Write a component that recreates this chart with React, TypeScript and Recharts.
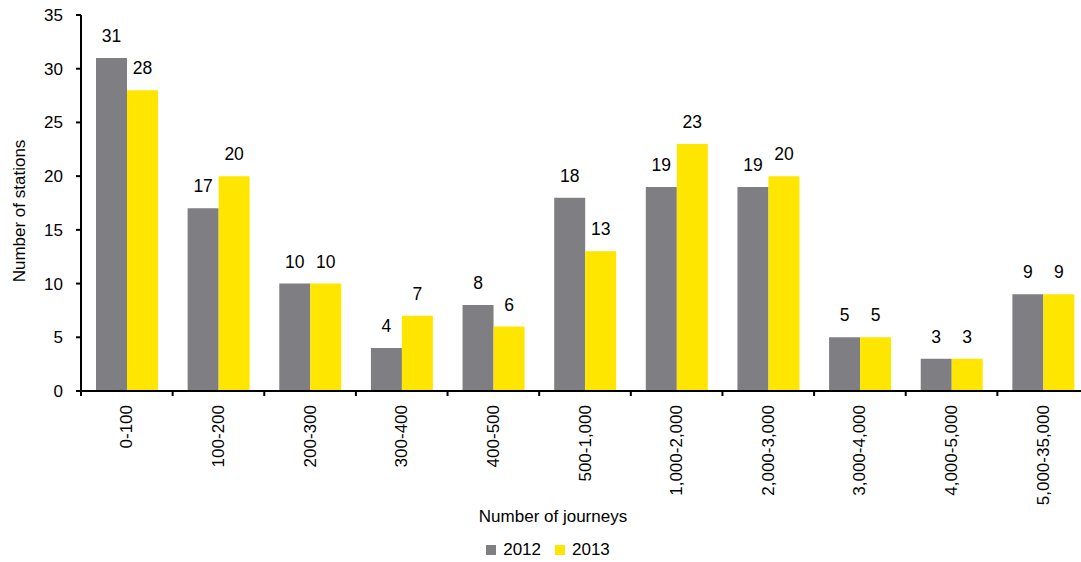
import { BarChart, Bar, XAxis, YAxis, Label, LabelList, Legend } from 'recharts';

const categories = [
  '0-100',
  '100-200',
  '200-300',
  '300-400',
  '400-500',
  '500-1,000',
  '1,000-2,000',
  '2,000-3,000',
  '3,000-4,000',
  '4,000-5,000',
  '5,000-35,000',
];
const stations2012 = [31, 17, 10, 4, 8, 18, 19, 19, 5, 3, 9];
const stations2013 = [28, 20, 10, 7, 6, 13, 23, 20, 5, 3, 9];
const yTicks = [0, 5, 10, 15, 20, 25, 30, 35];

const GREY = '#7f7e83';
const YELLOW = '#ffe600';
const FONT = '"Liberation Sans", Arial, sans-serif';

const data = categories.map((name, i) => ({
  name,
  y2012: stations2012[i],
  y2013: stations2013[i],
}));

// label at the band centre, tick mark at the band's left edge
function CategoryTick(props: any) {
  const { x, y, payload } = props;
  const edge = x - (payload.offset ?? 0);
  return (
    <g>
      <line x1={edge} y1={y} x2={edge} y2={y + 5} stroke="#000" strokeWidth={2} />
      <text
        x={x}
        y={y + 14}
        transform={`rotate(-90, ${x}, ${y + 14})`}
        textAnchor="end"
        dominantBaseline="central"
        fontSize={17}
        fill="#000"
      >
        {payload.value}
      </text>
    </g>
  );
}

function LegendContent() {
  const items = [
    { label: '2012', color: GREY },
    { label: '2013', color: YELLOW },
  ];
  return (
    <div
      style={{
        display: 'flex',
        justifyContent: 'center',
        alignItems: 'center',
        height: 30,
        paddingLeft: 7,
        paddingTop: 6,
        boxSizing: 'border-box',
        fontSize: 17,
        color: '#000',
      }}
    >
      {items.map((it) => (
        <span key={it.label} style={{ display: 'flex', alignItems: 'center', margin: '0 7px' }}>
          <span style={{ width: 10, height: 10, background: it.color, marginRight: 7 }} />
          {it.label}
        </span>
      ))}
    </div>
  );
}

export default function App() {
  return (
    <div
      style={{
        position: 'absolute',
        left: 0,
        top: 0,
        width: 1081,
        height: 562,
        overflow: 'hidden',
        background: '#fff',
        fontFamily: FONT,
      }}
    >
      <BarChart
        width={1090}
        height={562}
        data={data}
        margin={{ top: 15, right: 1, left: 0, bottom: 0 }}
        barCategoryGap={15}
        barGap={0}
      >
        <YAxis
          width={81}
          domain={[0, 35]}
          ticks={yTicks}
          interval={0}
          tickSize={5}
          tickMargin={13}
          axisLine={{ stroke: '#000', strokeWidth: 2 }}
          tickLine={{ stroke: '#000', strokeWidth: 2 }}
          tick={{ fontSize: 17, fill: '#000' }}
        >
          <Label
            content={({ viewBox }: any) => {
              const cx = viewBox.x + 19;
              const cy = viewBox.y + viewBox.height / 2 + 8;
              return (
                <text
                  x={cx}
                  y={cy}
                  transform={`rotate(-90, ${cx}, ${cy})`}
                  textAnchor="middle"
                  dominantBaseline="central"
                  fontSize={17}
                  fill="#000"
                >
                  Number of stations
                </text>
              );
            }}
          />
        </YAxis>
        <XAxis
          dataKey="name"
          height={141}
          interval={0}
          tickSize={0}
          tickMargin={0}
          tickLine={false}
          axisLine={{ stroke: '#000', strokeWidth: 2 }}
          tick={<CategoryTick />}
        >
          <Label
            content={({ viewBox }: any) => (
              <text
                x={viewBox.x + viewBox.width / 2 - 32}
                y={viewBox.y + viewBox.height - 10}
                textAnchor="middle"
                fontSize={17}
                fill="#000"
              >
                Number of journeys
              </text>
            )}
          />
        </XAxis>
        <Legend verticalAlign="bottom" content={<LegendContent />} />
        <Bar dataKey="y2012" name="2012" fill={GREY} isAnimationActive={false}>
          <LabelList dataKey="y2012" position="top" offset={16} fontSize={17.5} fill="#000" />
        </Bar>
        <Bar dataKey="y2013" name="2013" fill={YELLOW} isAnimationActive={false}>
          <LabelList dataKey="y2013" position="top" offset={16} fontSize={17.5} fill="#000" />
        </Bar>
      </BarChart>
    </div>
  );
}
